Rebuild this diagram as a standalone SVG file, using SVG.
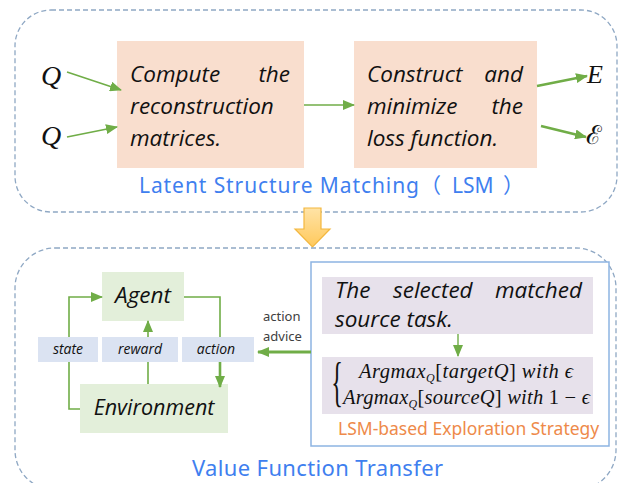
<svg xmlns="http://www.w3.org/2000/svg" width="619" height="483" viewBox="0 0 619 483">
<style>
.dash{fill:none;stroke:#8FA8C4;stroke-width:1.3;stroke-dasharray:5 3}
.peach{fill:#F9DECE}
.lav{fill:#E7E1EB}
.grn{fill:#E3EFDA}
.lbl{fill:#DBE3F2}
.it{font-family:"Open Sans","Noto Sans",sans-serif;font-style:italic;fill:#111}
.big{font-size:22.5px}
.sm{font-size:14px}
.math{font-family:"Liberation Serif","DejaVu Serif",serif;font-style:italic;fill:#111}
.cap{font-family:"Noto Sans","Noto Sans CJK SC",sans-serif}
.ln{fill:none;stroke:#70AD47}
</style>
<defs>
<marker id="ah" markerUnits="userSpaceOnUse" markerWidth="12" markerHeight="10" refX="11" refY="5" orient="auto">
<path d="M0,0 L12,5 L0,10 Z" fill="#70AD47"/>
</marker>
<linearGradient id="yg" x1="0" y1="0" x2="0" y2="1">
<stop offset="0" stop-color="#FFE3A6"/>
<stop offset="1" stop-color="#FFC95C"/>
</linearGradient>
</defs>

<g id="lsm-frame">
<rect class="dash" x="15" y="10" width="602" height="202" rx="36"/>
<text class="cap" y="193" font-size="21" fill="#3F7FEF"><tspan x="139" textLength="280" lengthAdjust="spacing">Latent Structure Matching</tspan><tspan x="420">（</tspan><tspan x="452">LSM</tspan><tspan x="503">）</tspan></text>
</g>

<g id="q1"><text class="math" x="41" y="85" font-size="28">Q</text></g>
<g id="q2"><text class="math" x="41" y="145" font-size="28">Q</text></g>

<g id="compute">
<rect class="peach" x="117" y="41" width="187" height="127"/>
<text class="it big" x="130" y="82">Compute</text>
<text class="it big" x="290" y="82" text-anchor="end">the</text>
<text class="it big" x="130" y="114">reconstruction</text>
<text class="it big" x="130" y="146">matrices.</text>
</g>

<g id="construct">
<rect class="peach" x="354" y="41" width="183" height="127"/>
<text class="it big" x="367" y="82">Construct</text>
<text class="it big" x="523" y="82" text-anchor="end">and</text>
<text class="it big" x="367" y="114">minimize</text>
<text class="it big" x="523" y="114" text-anchor="end">the</text>
<text class="it big" x="367" y="146">loss function.</text>
</g>

<g id="e-out"><text class="math" x="587" y="83" font-size="26">E</text></g>
<g id="eps-out"><text x="586" y="144" font-size="26" font-family="DejaVu Serif,serif" fill="#111">ℰ</text></g>

<g id="transfer-arrow">
<polygon points="304,208 321,208 321,229 330,229 312.5,247 295,229 304,229" fill="url(#yg)" stroke="#F3B73E" stroke-width="1.2"/>
</g>

<g id="vft-frame">
<rect class="dash" x="15" y="248" width="601" height="242" rx="40"/>
<text class="cap" x="192" y="476" font-size="22" fill="#3F7FEF" textLength="251" lengthAdjust="spacing">Value Function Transfer</text>
</g>

<g id="strategy">
<rect x="311" y="262" width="298" height="184" fill="#fff" stroke="#8DB4E2" stroke-width="1.5"/>
<text class="cap" x="338" y="435" font-size="17.5" fill="#EE8A4A">LSM-based Exploration Strategy</text>
</g>

<g id="selected">
<rect class="lav" x="322" y="277" width="271" height="57"/>
<text class="it big" x="335" y="298">The</text>
<text class="it big" x="393" y="298">selected</text>
<text class="it big" x="582" y="298" text-anchor="end">matched</text>
<text class="it big" x="335" y="327">source task.</text>
</g>

<g id="argmax">
<rect class="lav" x="322" y="357" width="271" height="57"/>
<text x="736" y="400" font-size="54" font-family="Liberation Serif,serif" fill="#111" transform="scale(0.45 1)">{</text>
<text class="math" x="359" y="378" font-size="20.5" textLength="214" lengthAdjust="spacing">Argmax<tspan font-size="12" dy="4">Q</tspan><tspan dy="-4" font-style="normal">[</tspan>targetQ<tspan font-style="normal">]</tspan> with ϵ</text>
<text class="math" x="343" y="404" font-size="20.5" textLength="247" lengthAdjust="spacing">Argmax<tspan font-size="12" dy="4">Q</tspan><tspan dy="-4" font-style="normal">[</tspan>sourceQ<tspan font-style="normal">]</tspan> with <tspan font-style="normal">1 − </tspan>ϵ</text>
</g>

<g id="agent">
<rect class="grn" x="102" y="272" width="82" height="49"/>
<text class="it big" x="143" y="303" text-anchor="middle">Agent</text>
</g>

<g id="environment">
<rect class="grn" x="80" y="384" width="148" height="49"/>
<text class="it" x="154" y="415" font-size="21.5" text-anchor="middle">Environment</text>
</g>

<g id="connectors">
<line class="ln" x1="67" y1="72" x2="121" y2="90" stroke-width="1.6" marker-end="url(#ah)"/>
<line class="ln" x1="67" y1="137" x2="117" y2="127" stroke-width="1.6" marker-end="url(#ah)"/>
<line class="ln" x1="304" y1="105" x2="354" y2="105" stroke-width="1.6" marker-end="url(#ah)"/>
<line class="ln" x1="537" y1="86" x2="587" y2="76" stroke-width="2.6" marker-end="url(#ah)"/>
<line class="ln" x1="541" y1="126" x2="586" y2="137" stroke-width="2.6" marker-end="url(#ah)"/>
<line class="ln" x1="458" y1="334" x2="458" y2="356" stroke-width="1.4" marker-end="url(#ah)"/>
<path class="ln" d="M80,409 H69 V297 H102" stroke-width="1.6" marker-end="url(#ah)"/>
<line class="ln" x1="148" y1="384" x2="148" y2="321" stroke-width="1.6" marker-end="url(#ah)"/>
<path class="ln" d="M184,297 H220 V340" stroke-width="1.6"/>
<line class="ln" x1="220" y1="360" x2="220" y2="387" stroke-width="2.6" marker-end="url(#ah)"/>
<line class="ln" x1="311" y1="352" x2="258" y2="352" stroke-width="2.8" marker-end="url(#ah)"/>
</g>

<g id="state">
<rect class="lbl" x="38" y="337" width="60" height="25"/>
<text class="it sm" x="68" y="354" text-anchor="middle">state</text>
</g>
<g id="reward">
<rect class="lbl" x="102" y="337" width="76" height="25"/>
<text class="it sm" x="140" y="354" text-anchor="middle">reward</text>
</g>
<g id="action">
<rect class="lbl" x="182" y="337" width="72" height="25"/>
<text class="it sm" x="216" y="354" text-anchor="middle">action</text>
</g>

<g id="advice-label">
<text class="cap" x="263" y="321" font-size="13" fill="#404040">action</text>
<text class="cap" x="263" y="341" font-size="13" fill="#404040">advice</text>
</g>
</svg>
